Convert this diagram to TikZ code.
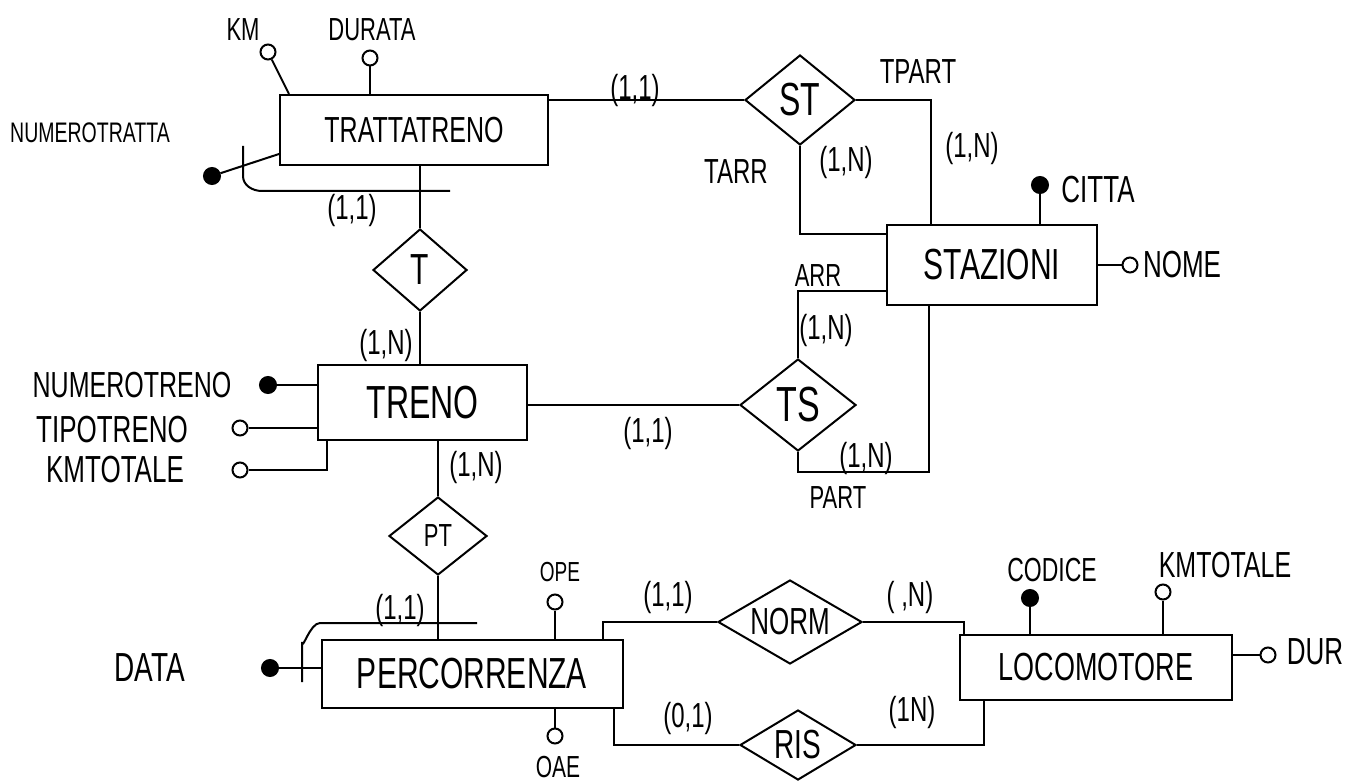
\documentclass[tikz,border=0pt]{standalone}
\usepackage{fontspec}
\setmainfont{Liberation Sans}
\usetikzlibrary{shapes.geometric,calc}
\newcommand\myfs[1]{\fontsize{#1}{#1}\selectfont}
\newcommand\hw[1]{\scalebox{1}[1.45]{#1}}
\begin{document}
\begin{tikzpicture}[x=1pt,y=-1pt,line width=2pt,
  entity/.style={draw,rectangle,inner sep=0pt},
  rel/.style={draw,diamond,inner sep=0pt,aspect=1.4},
  attr/.style={draw,circle,minimum size=15pt,inner sep=0pt,fill=white},
  keyattr/.style={draw,circle,minimum size=16pt,inner sep=0pt,fill=black},
  lbl/.style={inner sep=0pt,font=\myfs{22}},
  card/.style={inner sep=0pt,font=\myfs{24}}]
\useasboundingbox[fill=white] (0,0) rectangle (1365,783);

% entities
\node[entity,minimum width=268pt,minimum height=70pt,font=\myfs{25}] (trat) at (414,130) {\hw{TRATTATRENO}};
\node[entity,minimum width=209pt,minimum height=75pt,font=\myfs{32}] (treno) at (422.5,402.5) {\hw{TRENO}};
\node[entity,minimum width=210pt,minimum height=80pt,font=\myfs{30}] (staz) at (992,265) {\hw{STAZIONI}};
\node[entity,minimum width=301pt,minimum height=68pt,font=\myfs{30}] (perc) at (472,674) {\hw{PERCORRENZA}};
\node[entity,minimum width=272pt,minimum height=65pt,font=\myfs{27}] (loco) at (1096,667.5) {\hw{LOCOMOTORE}};

% relationships
\node[rel,minimum width=110pt,minimum height=90pt,font=\myfs{32}] (st) at (800,100) {\hw{ST}};
\node[rel,minimum width=94pt,minimum height=82pt,font=\myfs{30}] (t) at (420,270) {\hw{T}};
\node[rel,minimum width=116pt,minimum height=92pt,font=\myfs{34}] (ts) at (798,405) {\hw{TS}};
\node[rel,minimum width=98pt,minimum height=78pt,font=\myfs{22}] (pt) at (438,536) {\hw{PT}};
\node[rel,minimum width=144pt,minimum height=84pt,font=\myfs{26},aspect=1.7] (norm) at (790,622) {\hw{NORM}};
\node[rel,minimum width=116pt,minimum height=70pt,font=\myfs{28},aspect=1.7] (ris) at (798,745) {\hw{RIS}};

% relationship connectors
\draw (st.west) -- (st.west -| trat.east);
\draw (st.east) -| ($(staz.north west)+(45,0)$);
\draw (st.south) |- ($(staz.north west)+(0,10)$);
\draw (ts.north) |- ($(staz.north west)+(0,67)$);
\draw (ts.south) -- ++(0,20) -| ($(staz.south west)+(43,0)$);
\draw (ts.west) -- (ts.west -| treno.east);
\draw (t.north) -- (t.north |- trat.south);
\draw (t.south) -- (t.south |- treno.north);
\draw (pt.north) -- (pt.north |- treno.south);
\draw (pt.south) -- (pt.south |- perc.north);
\draw (norm.west) -| ($(perc.north east)+(-21,0)$);
\draw (ris.west) -| ($(perc.south east)+(-10,0)$);
\draw (norm.east) -| ($(loco.north west)+(5,0)$);
\draw (ris.east) -| ($(loco.south west)+(25,0)$);

% TRATTATRENO attributes
\node[attr] (akm) at (268,52) {};
\draw (akm) -- ($(trat.north west)+(10,0)$);
\node[lbl,font=\myfs{22}] (lkm) at (243,30) {\hw{KM}};
\node[attr] (adur) at (370,58) {};
\draw (adur) -- (adur |- trat.north);
\node[lbl,font=\myfs{22}] (ldur) at (372,30) {\hw{DURATA}};
\node[keyattr] (anumtr) at (212,176) {};
\draw (anumtr) -- ($(trat.south west)+(0,-12)$);
\node[lbl,font=\myfs{19.5}] (lnumtr) at (90,133) {\hw{NUMEROTRATTA}};
\coordinate (idA) at (243,146);
\coordinate (idB) at (450,191);
\draw (idA) -- (243,176) to[out=-90,in=180] (262,191) -- (idB);

% TRENO attributes
\node[keyattr] (anumt) at (268,385) {};
\draw (anumt) -- (anumt -| treno.west);
\node[lbl,font=\myfs{25}] (lnumt) at (132,385) {\hw{NUMEROTRENO}};
\node[attr] (atipo) at (240,428) {};
\draw (atipo) -- (atipo -| treno.west);
\node[lbl,font=\myfs{26}] (ltipo) at (112,430) {\hw{TIPOTRENO}};
\node[attr] (akmt) at (240,470) {};
\draw (akmt) -| ($(treno.south west)+(10,0)$);
\node[lbl,font=\myfs{26}] (lkmt) at (115,470) {\hw{KMTOTALE}};

% STAZIONI attributes
\node[keyattr] (acit) at (1040,185) {};
\draw (acit) -- (acit |- staz.north);
\node[lbl,font=\myfs{26}] (lcit) at (1098,190) {\hw{CITTA}};
\node[attr] (anome) at (1130,265) {};
\draw (anome) -- (staz.east);
\node[lbl,font=\myfs{26}] (lnome) at (1182,265) {\hw{NOME}};

% PERCORRENZA attributes
\node[keyattr] (adata) at (270,668) {};
\draw (adata) -- (adata -| perc.west);
\node[lbl,font=\myfs{28}] (ldata) at (150,668) {\hw{DATA}};
\coordinate (idC) at (302,682);
\coordinate (idD) at (477,623);
\draw (idC) -- (302,642) to[out=-90,in=180] (320,623) -- (idD);
\node[attr] (aope) at (555,602) {};
\draw (aope) -- (aope |- perc.north);
\node[lbl,font=\myfs{19}] (lope) at (560,572) {\hw{OPE}};
\node[attr] (aoae) at (555,736) {};
\draw (aoae) -- (aoae |- perc.south);
\node[lbl,font=\myfs{21}] (loae) at (558,767) {\hw{OAE}};

% LOCOMOTORE attributes
\node[keyattr] (acod) at (1030,598) {};
\draw (acod) -- (acod |- loco.north);
\node[lbl,font=\myfs{23}] (lcod) at (1052,570) {\hw{CODICE}};
\node[attr] (akml) at (1163,592) {};
\draw (akml) -- (akml |- loco.north);
\node[lbl,font=\myfs{25}] (lkml) at (1225,565) {\hw{KMTOTALE}};
\node[attr] (adurl) at (1268,655) {};
\draw (adurl) -- (adurl -| loco.east);
\node[lbl,font=\myfs{26}] (ldurl) at (1315,652) {\hw{DUR}};

% role names
\node[lbl,font=\myfs{24}] (ltpart) at (918,72) {\hw{TPART}};
\node[lbl,font=\myfs{24}] (ltarr) at (736,172) {\hw{TARR}};
\node[lbl,font=\myfs{22}] (larr) at (818,276) {\hw{ARR}};
\node[lbl,font=\myfs{22}] (lpart) at (838,498) {\hw{PART}};

% cardinalities
\node[card] (c1) at (635,90) {\hw{(1,1)}};
\node[card] (c2) at (972,148) {\hw{(1,N)}};
\node[card] (c3) at (846,162) {\hw{(1,N)}};
\node[card] (c4) at (352,210) {\hw{(1,1)}};
\node[card] (c5) at (386,345) {\hw{(1,N)}};
\node[card] (c6) at (826,330) {\hw{(1,N)}};
\node[card] (c7) at (648,433) {\hw{(1,1)}};
\node[card] (c8) at (866,458) {\hw{(1,N)}};
\node[card] (c9) at (476,467) {\hw{(1,N)}};
\node[card] (c10) at (400,610) {\hw{(1,1)}};
\node[card] (c11) at (668,597) {\hw{(1,1)}};
\node[card] (c12) at (910,597) {\hw{( ,N)}};
\node[card] (c13) at (688,718) {\hw{(0,1)}};
\node[card] (c14) at (912,712) {\hw{(1N)}};
\end{tikzpicture}
\end{document}
